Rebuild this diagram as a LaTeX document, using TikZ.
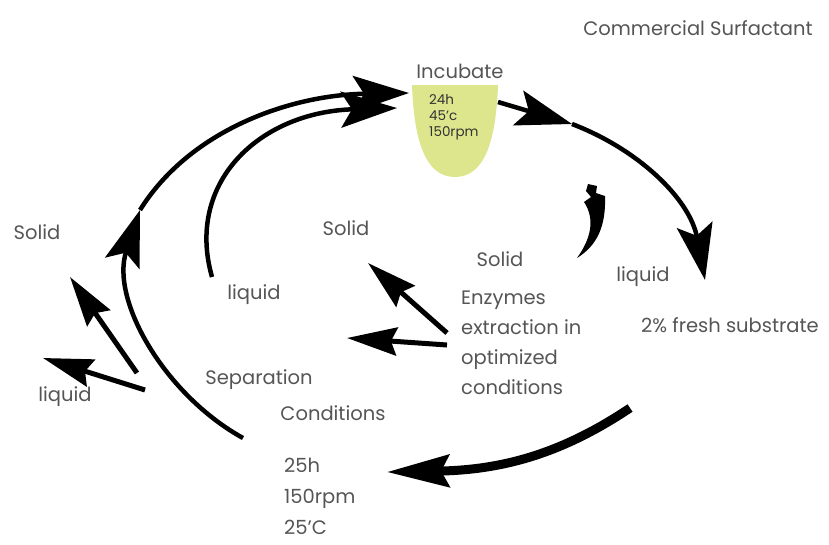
\documentclass[tikz,border=0pt]{standalone}
\usepackage{fontspec}
\setmainfont{Poppins}
\usepackage{xcolor}
\usepackage{tikz}
\usetikzlibrary{arrows.meta}
\definecolor{cupfill}{HTML}{DDE68C}
\definecolor{txtgrey}{HTML}{555555}

\begin{document}
\begin{tikzpicture}[x=1pt,y=-1pt,>={Stealth[length=56pt,width=36pt,inset=11pt]},
  lbl/.style={text=txtgrey,font=\fontsize{19.5}{22}\selectfont,inner sep=0pt},
  flow/.style={->,line width=4.5pt,black},
  splitarrow/.style={-{Stealth[length=50pt,width=28pt,inset=6pt]},line width=5pt,black}]
  \useasboundingbox (0,0) rectangle (829,544);
  % incubation cup
  \path[fill=cupfill] (412,85) -- (498,85) .. controls (496,140) and (485,177) .. (455,177)
    .. controls (425,177) and (414,140) .. (412,85) -- cycle;
  \node[lbl] (incub) at (460,71) {Incubate};
  \node[anchor=north west,align=left,inner sep=0pt,text=black!80,font=\fontsize{13.5}{16}\selectfont] (cupcond) at (429,94) {24h\\45'c\\150rpm};
  % labels
  \node[lbl] (surf) at (698,28) {Commercial Surfactant};
  \node[lbl] (solidL) at (37,232) {Solid};
  \node[lbl] (solidM) at (346,228) {Solid};
  \node[lbl] (solidR) at (500,259) {Solid};
  \node[lbl] (liqM) at (254,295) {liquid};
  \node[lbl] (liqR) at (643,277) {liquid};
  \node[lbl] (liqL) at (65,397) {liquid};
  \node[lbl] (fresh) at (730,325) {2\% fresh substrate};
  \node[lbl,anchor=west,align=left,font=\fontsize{19.5}{30}\selectfont] (enz) at (461,343) {Enzymes\\ extraction in\\optimized\\conditions};
  \node[lbl] (sep) at (259,380) {Separation};
  \node[lbl] (sepcond) at (333,413) {Conditions};
  \node[lbl,anchor=north west,align=left,font=\fontsize{19.5}{31}\selectfont] (sepval) at (284,458) {25h\\150rpm\\25'C};
  % arrow end points
  \coordinate (outS) at (243,438);
  \coordinate (outM) at (140,210);
  \coordinate (outE) at (409,93);
  \coordinate (inS) at (212,277);
  \coordinate (inE) at (397,108);
  \coordinate (topS) at (498,102);
  \coordinate (topM) at (572,124);
  \coordinate (topE) at (705,280);
  \coordinate (leftS1) at (137,373);
  \coordinate (leftE1) at (70,277);
  \coordinate (leftS2) at (145,390);
  \coordinate (leftE2) at (43,358);
  \coordinate (midS1) at (447,333);
  \coordinate (midE1) at (368,263);
  \coordinate (midS2) at (447,345);
  \coordinate (midE2) at (347,338);
  \coordinate (botS) at (630,408);
  \coordinate (botE) at (387,472);
  % cycle arrows
  \draw[flow] (outS) .. controls (165,395) and (110,300) .. (outM);
  \draw[flow] (outM) .. controls (190,130) and (290,95) .. (outE);
  \draw[flow] (inS) .. controls (185,182) and (260,112) .. (inE);
  \draw[flow] (topS) -- (topM);
  \draw[flow] (topM) .. controls (640,150) and (690,200) .. (topE);
  \draw[splitarrow] (leftS1) -- (leftE1);
  \draw[splitarrow] (leftS2) -- (leftE2);
  \draw[splitarrow] (midS1) -- (midE1);
  \draw[splitarrow] (midS2) -- (midE2);
  \draw[-{Stealth[length=62pt,width=32pt,inset=8pt]},line width=9pt] (botS) .. controls (560,455) and (500,470) .. (botE);
  % curved hook near the solid label
  \fill (588,184) -- (597,186) -- (596,193) -- (605,196) .. controls (606,225) and (598,245) .. (577,258)
    .. controls (590,240) and (596,220) .. (584,202) -- (591,197) -- (586,191) -- cycle;
\end{tikzpicture}
\end{document}
